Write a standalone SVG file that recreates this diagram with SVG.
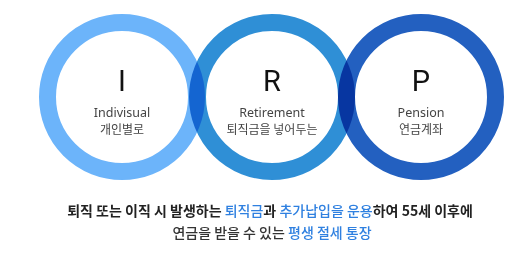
<svg xmlns="http://www.w3.org/2000/svg" width="532" height="263" viewBox="0 0 532 263">
<style>
.ring{fill:none;stroke-width:17;mix-blend-mode:multiply}
.big{font-family:Roboto,"Noto Sans",sans-serif;font-weight:400;font-size:29px;fill:#111;text-anchor:middle}
.en{font-family:"Noto Sans","Noto Sans CJK KR",sans-serif;font-size:12.5px;fill:#444;text-anchor:middle}
.ko{font-family:"Noto Sans CJK KR",sans-serif;font-size:12px;fill:#444;text-anchor:middle}
.desc{font-family:"Noto Sans CJK KR",sans-serif;font-size:14px;text-anchor:middle}
.b{font-weight:700;fill:#222}
.m{font-weight:500;fill:#333}
.bl{font-weight:500;fill:#2f80e0}
</style>
<rect width="532" height="263" fill="#fff"/>
<g id="connectors"></g>
<g id="node-I">
<circle class="ring" cx="122" cy="97" r="74.5" stroke="#6cb4fa"/>
<text class="big" x="122" y="91">I</text>
<text class="en" x="122" y="116.5">Indivisual</text>
<text class="ko" x="122" y="134">개인별로</text>
</g>
<g id="node-R">
<circle class="ring" cx="272" cy="97" r="74.5" stroke="#2f8fd6"/>
<text class="big" x="272" y="91">R</text>
<text class="en" x="272" y="116.5">Retirement</text>
<text class="ko" x="272" y="134">퇴직금을 넣어두는</text>
</g>
<g id="node-P">
<circle class="ring" cx="421" cy="97" r="74.5" stroke="#2360c0"/>
<text class="big" x="421" y="91">P</text>
<text class="en" x="421" y="116.5">Pension</text>
<text class="ko" x="421" y="134">연금계좌</text>
</g>
<g id="description">
<text class="desc" x="270" y="216"><tspan class="b">퇴직 또는 이직 시 발생하는 </tspan><tspan class="bl">퇴직금</tspan><tspan class="b">과 </tspan><tspan class="bl">추가납입을 운용</tspan><tspan class="b">하여 55세 이후에</tspan></text>
<text class="desc" x="272" y="238"><tspan class="m">연금을 받을 수 있는 </tspan><tspan class="bl">평생 절세 통장</tspan></text>
</g>
</svg>
